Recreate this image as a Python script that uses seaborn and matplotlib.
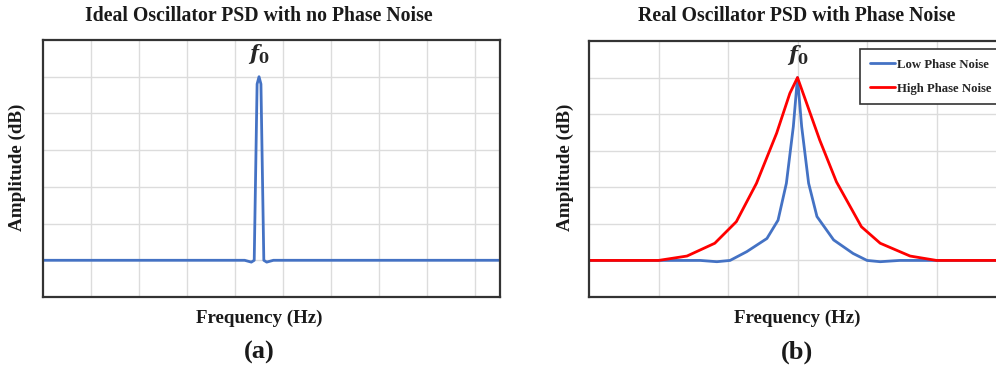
import numpy as np
import pandas as pd
import matplotlib
matplotlib.use("Agg")
import matplotlib.pyplot as plt
import seaborn as sns

# ideal oscillator: single narrow line at f0 (grid units)
ideal_x = [0, 4.2, 4.34, 4.40, 4.46, 4.5, 4.54, 4.60, 4.66, 4.8, 9.52]
ideal_y = [1, 1, 0.95, 1.0, 5.8, 6.0, 5.8, 1.0, 0.95, 1, 1]

# real oscillator: low / high phase noise skirts
low_x = [0, 1.6, 1.84, 2.03, 2.27, 2.56, 2.72, 2.84, 2.94, 3.0,
         3.06, 3.16, 3.28, 3.52, 3.8, 4.0, 4.19, 4.47, 6.0]
low_y = [1, 1.0, 0.965, 1.0, 1.24, 1.6, 2.1, 3.11, 4.66, 6.0,
         4.66, 3.11, 2.2, 1.56, 1.19, 1.0, 0.965, 1.0, 1]
high_x = [0, 1.0, 1.41, 1.81, 2.12, 2.41, 2.70, 2.89, 3.0,
          3.32, 3.56, 3.92, 4.19, 4.62, 5.0, 6.0]
high_y = [1, 1, 1.12, 1.47, 2.06, 3.11, 4.48, 5.57, 6.0,
          4.29, 3.15, 1.92, 1.47, 1.12, 1, 1]

series_labels = ["Low Phase Noise", "High Phase Noise"]
series_colors = ["#4472C4", "#FF0000"]

sns.set_style("whitegrid")
plt.rcParams["font.family"] = ["Liberation Serif", "DejaVu Serif"]
plt.rcParams["mathtext.fontset"] = "dejavuserif"

W, H = 996, 369
fig = plt.figure(figsize=(W / 100, H / 100), dpi=100)

def px_axes(x0, y0, x1, y1):
    return fig.add_axes([x0 / W, 1 - y1 / H, (x1 - x0) / W, (y1 - y0) / H])

def style(ax, xmax):
    ax.set_xlim(0, xmax)
    ax.set_ylim(0, 7)
    ax.set_xticks(np.arange(1, int(xmax) + 1))
    ax.set_yticks(np.arange(1, 7))
    ax.tick_params(left=False, bottom=False, labelleft=False, labelbottom=False)
    ax.grid(True, color="#DCDCDC", linewidth=1.0)
    for s in ax.spines.values():
        s.set_color("#333333")
        s.set_linewidth(1.6)
    ax.set_xlabel("")
    ax.set_ylabel("")

dark = "#1a1a1a"

# (a) ideal
ax1 = px_axes(43, 40, 500, 297)
df_a = pd.DataFrame({"f": ideal_x, "amp": ideal_y})
sns.lineplot(data=df_a, x="f", y="amp", ax=ax1, color="#4472C4", linewidth=2.0,
             sort=False, estimator=None)
style(ax1, 9.52)
ax1.text(4.5, 6.3, r"$\mathbfit{f}_{\mathbf{0}}$", ha="center", va="bottom", fontsize=15)

# (b) real
ax2 = px_axes(589, 41, 1006, 297)
df_b = pd.DataFrame({
    "f": low_x + high_x,
    "amp": low_y + high_y,
    "series": [series_labels[0]] * len(low_x) + [series_labels[1]] * len(high_x),
})
sns.lineplot(data=df_b, x="f", y="amp", hue="series", palette=series_colors,
             ax=ax2, linewidth=2.0, sort=False, estimator=None)
style(ax2, 6)
ax2.text(3.0, 6.3, r"$\mathbfit{f}_{\mathbf{0}}$", ha="center", va="bottom", fontsize=15)
leg = ax2.legend(loc="upper left", bbox_to_anchor=((860 - 589) / 417, (297 - 49) / 256),
                 borderaxespad=0, frameon=True, fancybox=False, handlelength=2.0,
                 handletextpad=0.15, borderpad=0.75, labelspacing=0.95,
                 prop=dict(family="Liberation Serif", weight="bold", size=9.2))
leg.get_frame().set_edgecolor("#333333")
leg.get_frame().set_linewidth(1.2)
leg.get_frame().set_alpha(1)

# titles, axis labels and panel tags
for cx, ylx, title, tag in [(259, 17, "Ideal Oscillator PSD with no Phase Noise", "(a)"),
                            (797, 565, "Real Oscillator PSD with Phase Noise", "(b)")]:
    fig.text(cx / W, 1 - 16 / H, title, ha="center", va="center",
             fontsize=14.2, fontweight="bold", color=dark)
    fig.text(cx / W, 1 - 318 / H, "Frequency (Hz)", ha="center", va="center",
             fontsize=13.7, fontweight="bold", color=dark)
    fig.text(ylx / W, 1 - 167 / H, "Amplitude (dB)", ha="center", va="center",
             rotation=90, fontsize=13.7, fontweight="bold", color=dark)
    fig.text(cx / W, 1 - 352 / H, tag, ha="center", va="center",
             fontsize=19, fontweight="bold", color=dark)

fig.savefig("out.png", dpi=100)
